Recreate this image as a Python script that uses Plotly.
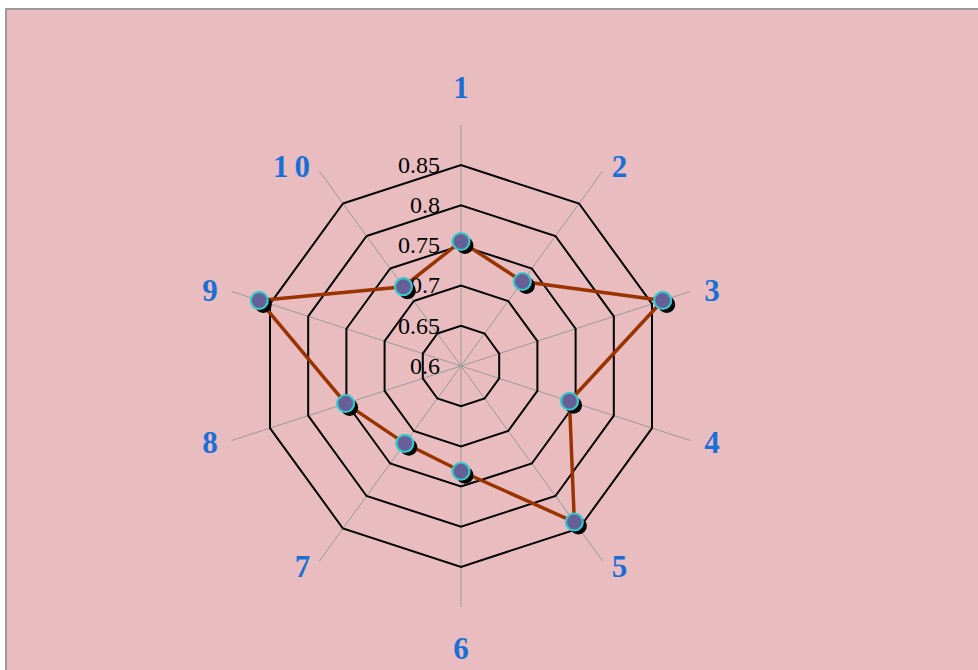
import plotly.graph_objects as go

categories = ["1", "2", "3", "4", "5", "6", "7", "8", "9", "10"]
category_labels = {"1": "1", "2": "2", "3": "3", "4": "4", "5": "5", "6": "6",
                   "7": "7", "8": "8", "9": "9", "10": "1\u20090"}
values = [0.755, 0.73, 0.864, 0.742, 0.84, 0.731, 0.719, 0.751, 0.864, 0.722]
tick_vals = [0.6, 0.65, 0.7, 0.75, 0.8, 0.85]
tick_labels = ["0.6", "0.65", "0.7", "0.75", "0.8", "0.85"]

W, H = 978, 670
cx, cy, R = 461, 366, 241

# label groups with placement tweaks: (labels, radius, dx, dy, ticklen)
label_groups = [
    (["3", "9"], 241, 0, 6, 8),
    (["4", "8"], 241, 0, -12, 8),
    (["2", "10"], 236, 0, 17, 14),
    (["5", "7"], 236, 0, -28, 14),
]
main_labels = ["1", "6"]


def dom(rad, dx=0, dy=0):
    return dict(x=[(cx - rad + dx) / W, (cx + rad + dx) / W],
                y=[(H - cy - rad - dy) / H, (H - cy + rad - dy) / H])


theta = categories + [categories[0]]
r = values + [values[0]]

label_font = dict(family="Liberation Serif", size=31, color="#1a6fd6", weight="bold")
pad = "\u2002\u2009"

fig = go.Figure()
fig.add_trace(go.Scatterpolar(r=r, theta=theta, mode="lines",
                              line=dict(color="#993300", width=3.5),
                              subplot="polar", showlegend=False, hoverinfo="skip"))
fig.add_trace(go.Scatterpolar(r=values, theta=categories, mode="markers",
                              marker=dict(size=17, color="black"),
                              subplot="polar2", showlegend=False, hoverinfo="skip"))
fig.add_trace(go.Scatterpolar(r=values, theta=categories, mode="markers",
                              marker=dict(size=17, color="#675f98",
                                          line=dict(color="#35c9cc", width=2.2)),
                              subplot="polar3", showlegend=False))

hidden_radial = dict(range=[0.6, 0.9], visible=False, showgrid=False)
hidden_ang = dict(direction="clockwise", rotation=90, visible=False,
                  showgrid=False, categoryorder="array", categoryarray=categories)


def label_axis(group, ticklen):
    return dict(direction="clockwise", rotation=90, showgrid=False, showline=False,
                categoryorder="array", categoryarray=categories,
                tickvals=group, ticktext=[category_labels[g] for g in group],
                ticks="outside", ticklen=ticklen, tickcolor="rgba(0,0,0,0)",
                tickfont=label_font)


layout_polars = dict(
    polar=dict(
        domain=dom(R),
        bgcolor="rgba(0,0,0,0)",
        gridshape="linear",
        radialaxis=dict(range=[0.6, 0.9], tickvals=tick_vals,
                        ticktext=[t + pad for t in tick_labels],
                        angle=90, tickangle=90, side="counterclockwise",
                        showline=False, ticks="", gridcolor="black", gridwidth=2,
                        tickfont=dict(family="Liberation Serif", size=24, color="black")),
        angularaxis=dict(direction="clockwise", rotation=90,
                         categoryorder="array", categoryarray=categories,
                         tickvals=categories,
                         ticktext=[category_labels[c] if c in main_labels else "" for c in categories],
                         showline=False, gridcolor="#9a9a9a", gridwidth=1,
                         ticks="outside", ticklen=14, tickcolor="rgba(0,0,0,0)",
                         tickfont=label_font),
    ),
    polar2=dict(domain=dom(R, 4, 4), bgcolor="rgba(0,0,0,0)",
                radialaxis=hidden_radial, angularaxis=hidden_ang),
    polar3=dict(domain=dom(R), bgcolor="rgba(0,0,0,0)",
                radialaxis=hidden_radial, angularaxis=hidden_ang),
)

for i, (grp, rad, dx, dy, tl) in enumerate(label_groups):
    name = "polar%d" % (i + 4)
    fig.add_trace(go.Scatterpolar(r=values, theta=categories, mode="markers",
                                  marker=dict(size=1, opacity=0),
                                  subplot=name, showlegend=False, hoverinfo="skip"))
    layout_polars[name] = dict(domain=dom(rad, dx, dy), bgcolor="rgba(0,0,0,0)",
                               radialaxis=hidden_radial,
                               angularaxis=label_axis(grp, tl))

fig.update_layout(
    width=W, height=H,
    margin=dict(l=0, r=0, t=0, b=0),
    paper_bgcolor="white",
    plot_bgcolor="rgba(0,0,0,0)",
    shapes=[dict(type="rect", xref="paper", yref="paper",
                 x0=6 / W, x1=1.02, y0=-0.02, y1=1 - 9 / H,
                 fillcolor="#e9bdbf", line=dict(color="#9a9a9a", width=2),
                 layer="below")],
    **layout_polars,
)

fig.write_html("out.html", config={"displayModeBar": False},
               post_script="document.body.style.margin='0px';")
